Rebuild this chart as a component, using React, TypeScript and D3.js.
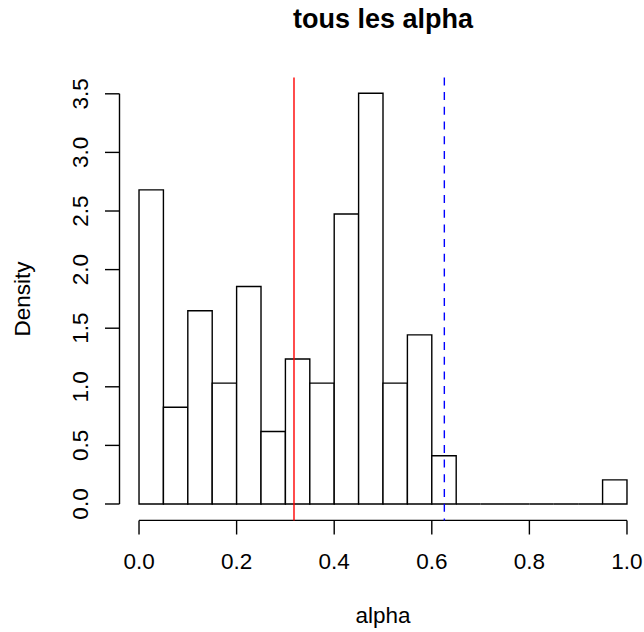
// histogram of alpha values, R base-graphics look, drawn with d3
import React, { useRef, useEffect } from 'react';
import * as d3 from 'd3';

// bin edges (width 0.05) and densities
const binStarts = [0, 0.05, 0.1, 0.15, 0.2, 0.25, 0.3, 0.35, 0.4, 0.45, 0.5, 0.55, 0.6, 0.65, 0.7, 0.75, 0.8, 0.85, 0.9, 0.95];
const densities = [2.68, 0.825, 1.649, 1.031, 1.856, 0.619, 1.237, 1.031, 2.474, 3.505, 1.031, 1.443, 0.412, 0, 0, 0, 0, 0, 0, 0.206];
const binWidth = 0.05;

const xTicks = [0, 0.2, 0.4, 0.6, 0.8, 1.0];
const yTicks = [0, 0.5, 1, 1.5, 2, 2.5, 3, 3.5];

// reference lines
const redLine = 0.3176;
const blueLine = 0.6257;

const title = 'tous les alpha';
const xLabel = 'alpha';
const yLabel = 'Density';

function App() {
  const ref = useRef(null);
  const width = 644;
  const height = 632;
  const font = '"Liberation Sans", Arial, Helvetica, sans-serif';

  useEffect(() => {
    const svg = d3.select(ref.current);
    svg.selectAll('*').remove();

    // plot region like R's usr (4% padding)
    const x = d3.scaleLinear().domain([-0.04, 1.04]).range([119.5, 646.5]);
    const y = d3.scaleLinear().domain([-0.14, 3.64]).range([520.4, 77.4]);

    const bins = binStarts.map((s, i) => ({ x0: s, x1: s + binWidth, d: densities[i] }));

    // paths instead of rects so empty bins still show as a line on the base
    svg.selectAll('.bar')
      .data(bins)
      .enter()
      .append('path')
      .attr('class', 'bar')
      .attr('d', d => `M${x(d.x0)},${y(0)}V${y(d.d)}H${x(d.x1)}V${y(0)}Z`)
      .style('fill', 'white')
      .style('stroke', 'black')
      .style('stroke-width', 1.4);

    // x axis
    const gx = svg.append('g');
    gx.append('line')
      .attr('x1', x(0)).attr('x2', x(1))
      .attr('y1', 520.4).attr('y2', 520.4)
      .style('stroke', 'black').style('stroke-width', 1.4);
    gx.selectAll('.xt')
      .data(xTicks)
      .enter()
      .append('line')
      .attr('x1', d => x(d)).attr('x2', d => x(d))
      .attr('y1', 520.4).attr('y2', 534.5)
      .style('stroke', 'black').style('stroke-width', 1.4);
    gx.selectAll('.xl')
      .data(xTicks)
      .enter()
      .append('text')
      .attr('x', d => x(d))
      .attr('y', 569)
      .attr('text-anchor', 'middle')
      .style('font-family', font)
      .style('font-size', '22.5px')
      .text(d => d3.format('.1f')(d));

    // y axis
    const gy = svg.append('g');
    gy.append('line')
      .attr('x1', 119.5).attr('x2', 119.5)
      .attr('y1', y(0)).attr('y2', y(3.5))
      .style('stroke', 'black').style('stroke-width', 1.4);
    gy.selectAll('.yt')
      .data(yTicks)
      .enter()
      .append('line')
      .attr('x1', 105).attr('x2', 119.5)
      .attr('y1', d => y(d)).attr('y2', d => y(d))
      .style('stroke', 'black').style('stroke-width', 1.4);
    gy.selectAll('.yl')
      .data(yTicks)
      .enter()
      .append('text')
      .attr('transform', d => `translate(88,${y(d)}) rotate(-90)`)
      .attr('text-anchor', 'middle')
      .style('font-family', font)
      .style('font-size', '22.5px')
      .text(d => d3.format('.1f')(d));

    // vertical reference lines across the plot region
    svg.append('line')
      .attr('x1', x(redLine)).attr('x2', x(redLine))
      .attr('y1', 77.4).attr('y2', 520.4)
      .style('stroke', '#FF0000').style('stroke-width', 1.4);
    svg.append('line')
      .attr('x1', x(blueLine)).attr('x2', x(blueLine))
      .attr('y1', 77.4).attr('y2', 520.4)
      .style('stroke', '#0000FF').style('stroke-width', 1.4)
      .style('stroke-dasharray', '8,6.7');

    // titles
    svg.append('text')
      .attr('x', 383).attr('y', 28)
      .attr('text-anchor', 'middle')
      .style('font-family', font)
      .style('font-size', '27px')
      .style('font-weight', 'bold')
      .text(title);
    svg.append('text')
      .attr('x', 383).attr('y', 623)
      .attr('text-anchor', 'middle')
      .style('font-family', font)
      .style('font-size', '22.5px')
      .text(xLabel);
    svg.append('text')
      .attr('transform', `translate(30,${(77.4 + 520.4) / 2}) rotate(-90)`)
      .attr('text-anchor', 'middle')
      .style('font-family', font)
      .style('font-size', '22.5px')
      .text(yLabel);
  }, []);

  return (
    <div style={{ position: 'absolute', left: 0, top: 0 }}>
      <svg ref={ref} width={width} height={height} style={{ display: 'block', background: 'white' }} />
    </div>
  );
}

export default App;
